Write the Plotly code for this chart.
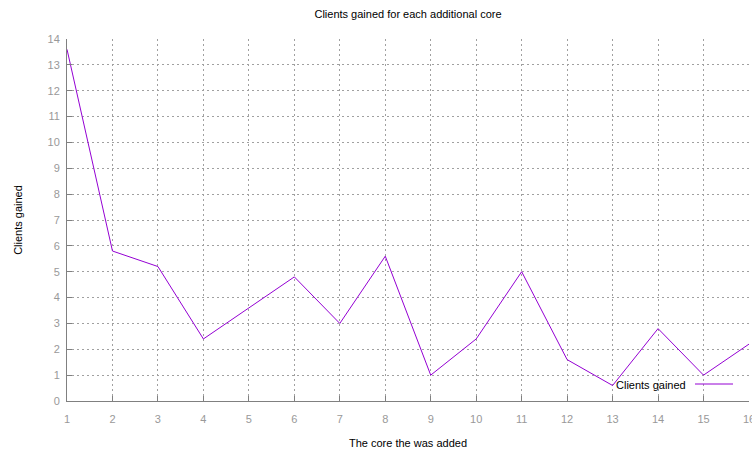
import plotly.graph_objects as go

cores = list(range(1, 17))
clients_gained = [13.6, 5.8, 5.2, 2.4, 3.6, 4.8, 3.0, 5.6, 1.0, 2.4, 5.0, 1.6, 0.6, 2.8, 1.0, 2.2]
x_ticks = list(range(1, 17))
y_ticks = list(range(0, 15))

LINE_COLOR = "#9400D3"
GRID_COLOR = "#a0a0a0"
AXIS_COLOR = "#808080"
TICK_FONT_COLOR = "#999999"
FONT = "Liberation Sans, Arial, sans-serif"

fig = go.Figure()
fig.add_trace(go.Scatter(x=cores, y=clients_gained, mode="lines",
                         line=dict(color=LINE_COLOR, width=1),
                         name="Clients gained", showlegend=False))

fig.update_layout(
    width=752, height=451,
    margin=dict(l=67, r=3, t=39, b=50),
    paper_bgcolor="white", plot_bgcolor="white",
    font=dict(family=FONT, size=11, color="#000000"),
    title=dict(text="Clients gained for each additional core", x=(67 + 749) / 2 / 752,
               xanchor="center", y=1 - 14 / 451, yanchor="middle",
               font=dict(size=11, color="#000000")),
    xaxis=dict(range=[1, 16], tickvals=x_ticks, ticks="inside", ticklen=5,
               tickcolor=AXIS_COLOR, showline=True, linecolor=AXIS_COLOR, linewidth=1,
               showgrid=True, gridcolor=GRID_COLOR, griddash="2px,3px", gridwidth=1,
               zeroline=False, tickfont=dict(color=TICK_FONT_COLOR, size=11),
               ticklabelstandoff=8, ticklabeloverflow="allow",
               title=dict(text="The core the was added", font=dict(size=11, color="#000000"),
                          standoff=15),
               automargin=False, fixedrange=True),
    yaxis=dict(range=[0, 14], tickvals=y_ticks, ticks="inside", ticklen=5,
               tickcolor=AXIS_COLOR, showline=True, linecolor=AXIS_COLOR, linewidth=1,
               showgrid=True, gridcolor=GRID_COLOR, griddash="2px,3px", gridwidth=1,
               zeroline=False, tickfont=dict(color=TICK_FONT_COLOR, size=11),
               ticklabelstandoff=4,
               title=dict(text="Clients gained", font=dict(size=11, color="#000000"),
                          standoff=22),
               automargin=False, fixedrange=True),
)

# gnuplot-style key: text then line sample, bottom right inside the plot
fig.add_annotation(text="Clients gained", xref="paper", yref="paper",
                   x=(688 - 67) / 682, y=(401 - 385) / 362, xanchor="right", yanchor="middle",
                   showarrow=False, font=dict(size=11, color="#000000"), bgcolor="rgba(0,0,0,0)")
fig.add_shape(type="line", xref="paper", yref="paper",
              x0=(695 - 67) / 682, x1=(733 - 67) / 682,
              y0=(401 - 384) / 362, y1=(401 - 384) / 362,
              line=dict(color=LINE_COLOR, width=1))

post = ("document.body.style.margin='0';document.body.style.padding='0';"
        "document.body.style.overflow='hidden';"
        "Plotly.relayout('{plot_id}', {width: 752, height: 451});")
fig.write_html("out.html", config={"responsive": False, "displayModeBar": False},
               post_script=post)
